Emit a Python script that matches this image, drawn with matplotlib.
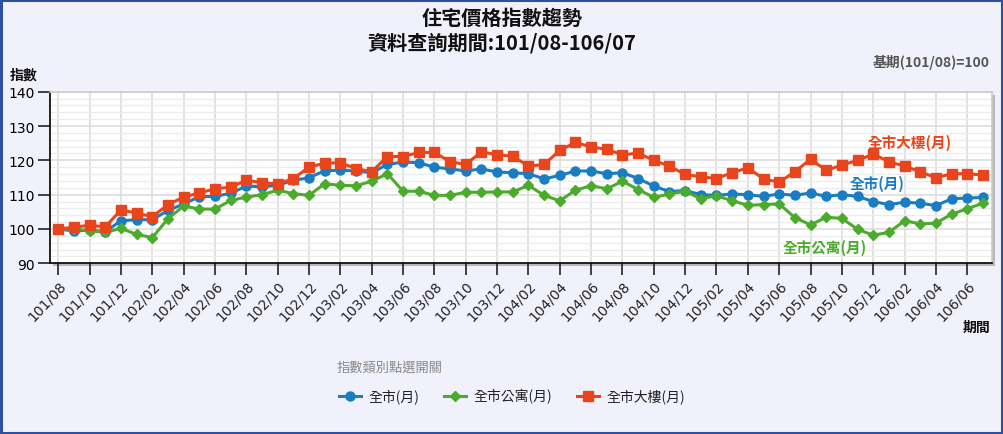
import matplotlib
matplotlib.use("Agg")
import matplotlib.pyplot as plt
from matplotlib.patches import Rectangle
from matplotlib.ticker import MultipleLocator
import numpy as np

plt.rcParams['font.family'] = ['Noto Sans CJK TC', 'DejaVu Sans']

# months 101/08 .. 106/07
months = []
y, m = 101, 8
for _ in range(60):
    months.append(f"{y}/{m:02d}")
    m += 1
    if m > 12:
        m = 1
        y += 1

city = [100.0, 99.4, 99.7, 99.2, 102.4, 102.7, 102.7, 105.4, 107.3, 109.4,
        109.5, 110.4, 112.5, 112.3, 112.7, 114.2, 114.9, 117.0, 117.1, 116.9,
        116.4, 118.8, 119.5, 119.3, 118.0, 117.5, 116.9, 117.5, 116.6, 116.4,
        116.1, 114.6, 115.6, 116.9, 116.9, 116.1, 116.4, 114.7, 112.5, 110.9,
        111.2, 110.0, 109.8, 110.2, 110.0, 109.5, 110.2, 109.8, 110.5, 109.5,
        110.0, 109.5, 108.0, 107.1, 107.8, 107.5, 106.8, 108.8, 109.0, 109.2]

apartment = [100.0, 100.0, 99.5, 99.0, 100.2, 98.4, 97.5, 103.0, 106.7, 105.8,
             105.8, 108.3, 109.3, 110.0, 111.3, 110.3, 109.8, 113.2, 112.7, 112.6,
             113.9, 116.1, 111.0, 111.0, 109.8, 109.8, 110.7, 110.7, 110.8, 110.8,
             112.7, 109.8, 108.2, 111.3, 112.6, 111.7, 113.9, 111.5, 109.2, 110.2,
             111.0, 108.8, 109.7, 108.2, 106.9, 107.1, 107.3, 103.3, 101.2, 103.4,
             103.1, 99.9, 98.2, 99.0, 102.4, 101.5, 101.7, 104.3, 105.9, 107.5]

building = [100.0, 100.5, 101.1, 100.6, 105.6, 104.6, 103.6, 107.1, 109.3, 110.5,
            111.7, 112.2, 114.2, 113.5, 113.1, 114.7, 118.0, 119.2, 119.3, 117.6,
            116.7, 121.1, 121.1, 122.3, 122.3, 119.6, 118.8, 122.5, 121.6, 121.2,
            118.3, 118.8, 122.9, 125.2, 123.9, 123.2, 121.6, 122.1, 120.0, 118.3,
            115.9, 115.2, 114.7, 116.4, 117.8, 114.6, 113.6, 116.7, 120.3, 117.1,
            118.6, 120.0, 121.8, 119.6, 118.3, 116.7, 114.9, 116.1, 116.1, 115.7]

series_names = ['全市(月)', '全市公寓(月)', '全市大樓(月)']
colors = ['#1a7dc2', '#4cab2c', '#e8451c']

W, H = 1004, 435
fig = plt.figure(figsize=(W / 100, H / 100), dpi=100)
fig.patch.set_facecolor('#f1f1fb')

# border
fig.add_artist(Rectangle((0.001, 0.002), 0.997, 0.995, transform=fig.transFigure,
                         fill=False, edgecolor='#2f4f9f', linewidth=2.2))

left, right, top, bottom = 50, 992, 92.7, 264.3
ax_rect = [left / W, 1 - bottom / H, (right - left) / W, (bottom - top) / H]
# shadow
fig.add_artist(Rectangle((ax_rect[0] + 3 / W, ax_rect[1] - 3 / H), ax_rect[2], ax_rect[3],
                         transform=fig.transFigure, facecolor='#b8b8c0', edgecolor='none',
                         zorder=0))
ax = fig.add_axes(ax_rect)
ax.set_facecolor('white')

x = np.arange(len(months))
ax.plot(x, city, color=colors[0], lw=2.2, marker='o', ms=6.5, zorder=3, label=series_names[0])
ax.plot(x, apartment, color=colors[1], lw=2.2, marker='D', ms=4.8, zorder=4, label=series_names[1])
ax.plot(x, building, color=colors[2], lw=2.2, marker='s', ms=6.8, zorder=5, label=series_names[2])

ax.set_xlim(-0.53, 59.58)
ax.set_ylim(90, 140)
ax.set_xticks(x[::2])
ax.set_xticklabels(months[::2], rotation=47, ha='right', rotation_mode='anchor',
                   fontsize=10, family='DejaVu Sans', color='#222222')
ax.yaxis.set_major_locator(MultipleLocator(10))
ax.yaxis.set_minor_locator(MultipleLocator(2))
ax.tick_params(axis='y', labelsize=10, length=9, width=1.2, color='#222222', pad=2)
for lab in ax.get_yticklabels():
    lab.set_family('DejaVu Sans')
ax.tick_params(axis='y', which='minor', length=0)
ax.tick_params(axis='x', length=8.5, width=1.2, color='#222222', pad=2)
ax.grid(True, which='major', axis='both', color='#dddddd', lw=1.2, zorder=0)
ax.grid(True, which='minor', axis='y', color='#ececec', lw=0.9, zorder=0)
ax.set_axisbelow(True)
for s in ['top', 'right']:
    ax.spines[s].set_color('#cccccc')
    ax.spines[s].set_linewidth(1.2)
for s in ['left', 'bottom']:
    ax.spines[s].set_color('#111111')
    ax.spines[s].set_linewidth(1.3)

# inline labels
fig.text(910 / W, 1 - 143 / H, '全市大樓(月)', color=colors[2], fontsize=10.5,
         fontweight='bold', ha='center', va='center')
fig.text(877 / W, 1 - 184 / H, '全市(月)', color=colors[0], fontsize=10.5,
         fontweight='bold', ha='center', va='center')
fig.text(825 / W, 1 - 248 / H, '全市公寓(月)', color=colors[1], fontsize=10.5,
         fontweight='bold', ha='center', va='center')

# titles
fig.text(0.5, 1 - 18 / H, '住宅價格指數趨勢', ha='center', va='center', fontsize=14.5,
         fontweight='bold', color='#111111')
fig.text(0.5, 1 - 43 / H, '資料查詢期間:101/08-106/07', ha='center', va='center', fontsize=14.5,
         fontweight='bold', color='#111111')
fig.text(990 / W, 1 - 62 / H, '基期(101/08)=100', ha='right', va='center', fontsize=10,
         fontweight='bold', color='#555555')
fig.text(10 / W, 1 - 76 / H, '指數', ha='left', va='center', fontsize=10,
         fontweight='bold', color='#111111')
fig.text(990 / W, 1 - 328 / H, '期間', ha='right', va='center', fontsize=10,
         fontweight='bold', color='#111111')
fig.text(337 / W, 1 - 368 / H, '指數類別點選開關', ha='left', va='center', fontsize=9.5,
         color='#888888')

handles, labels = ax.get_legend_handles_labels()
leg = fig.legend(handles, labels, loc='center', bbox_to_anchor=(0.51, 1 - 397 / H), ncol=3,
                 frameon=False, fontsize=10, handlelength=1.6, columnspacing=1.8,
                 handletextpad=0.5)
for t in leg.get_texts():
    t.set_color('#222222')

fig.savefig('out.png', dpi=100, facecolor=fig.get_facecolor())
